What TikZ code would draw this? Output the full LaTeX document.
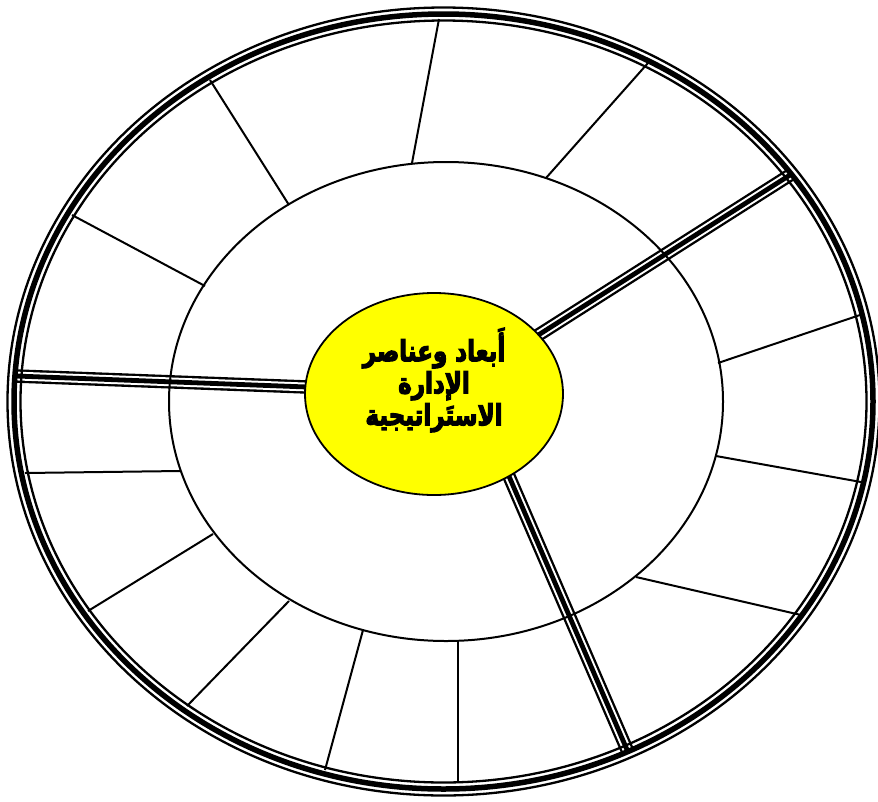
\documentclass[tikz,border=0pt]{standalone}
\usepackage{fontspec}
\usepackage{graphicx}
\newfontfamily\arabicheavy[Script=Arabic,FakeBold=4.5]{DejaVu Sans Bold}
\TeXXeTstate=1
\definecolor{centerfill}{RGB}{255,255,0}
\newcommand\titleline[1]{\scalebox{1}[1.25]{\beginR #1\endR}}
\tikzset{
  thinline/.style={line width=2pt, black},
  ringthin/.style={line width=2.3pt, black},
  ringthick/.style={line width=5.5pt, black},
  titletext/.style={align=center, font=\arabicheavy\fontsize{23}{32}\selectfont},
}
\newcommand\sepline[2]{%
  \draw[line width=13.5pt] #1 -- #2;
  \draw[line width=8.8pt, white] #1 -- #2;
  \draw[line width=4.8pt] #1 -- #2;
}
\begin{document}
\begin{tikzpicture}[x=1pt, y=-1pt]
\useasboundingbox (0,0) rectangle (878,801);
% thin divider lines in outer band
\draw[thinline] (412,163) -- (439,19);
\draw[thinline] (289,205) -- (210,80);
\draw[thinline] (205,286) -- (72,215);
\draw[thinline] (180,471) -- (25,473);
\draw[thinline] (213,534) -- (88,611);
\draw[thinline] (289,601) -- (187,706);
\draw[thinline] (363,630) -- (325,770);
\draw[thinline] (458,640) -- (458,783);
\draw[thinline] (636,577) -- (801,615);
\draw[thinline] (716,456) -- (861,482);
\draw[thinline] (718,363) -- (860,315);
\draw[thinline] (546,178) -- (648,63);
% thick separators
\sepline{(360,389)}{(16,376)}
\sepline{(488,367)}{(790,175)}
\sepline{(486,423)}{(628,752)}
% middle ellipse
\draw[thinline] (446,401.5) ellipse [x radius=277, y radius=239.5];
% outer ring
\draw[ringthin] (443.5,401.5) ellipse [x radius=436, y radius=394];
\draw[ringthick] (443.5,401.5) ellipse [x radius=429.5, y radius=387.5];
\draw[ringthin] (443.5,401.5) ellipse [x radius=423, y radius=381];
% center
\fill[centerfill, draw=black, line width=1.8pt] (434,394) ellipse [x radius=129, y radius=101];
\node[titletext] (t) at (434,380)
  {\titleline{أَبعاد وعناصر}\\ \titleline{الإدارة}\\ \titleline{الاستَراتيجية}};
\end{tikzpicture}
\end{document}
